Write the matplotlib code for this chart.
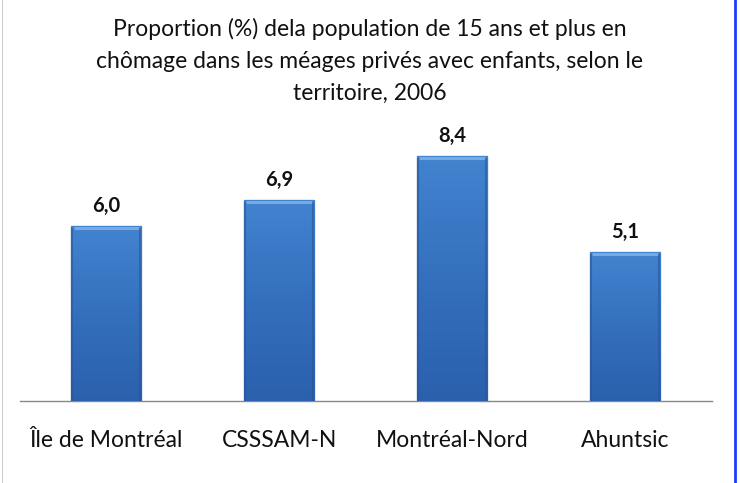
import numpy as np
import matplotlib.pyplot as plt
from matplotlib.lines import Line2D
from matplotlib.colors import LinearSegmentedColormap

plt.rcParams['font.family'] = ['Lato', 'DejaVu Sans']

categories = ["Île de Montréal", "CSSSAM-N", "Montréal-Nord", "Ahuntsic"]
values = [6.0, 6.9, 8.4, 5.1]
value_labels = ["6,0", "6,9", "8,4", "5,1"]
title = ("Proportion (%) dela population de 15 ans et plus en\n"
         "chômage dans les méages privés avec enfants, selon le\n"
         "territoire, 2006")

fig = plt.figure(figsize=(7.4, 4.83), dpi=100)
ax = fig.add_axes([0.027, 0.1698, 0.935, 0.5435])

x = np.arange(len(categories))
bars = ax.bar(x, values, width=0.405, color="#3673c0", edgecolor="#2a5a9a",
              linewidth=0.9, zorder=2)

# vertical gradient inside each bar, with a lighter bevel on top
grad = np.linspace(0, 1, 256).reshape(-1, 1)
cmap = LinearSegmentedColormap.from_list("g", ["#2b60ad", "#3470bd", "#4283cf"])
for b in bars:
    x0, y0 = b.get_x(), b.get_y()
    w, h = b.get_width(), b.get_height()
    im = ax.imshow(grad, extent=(x0, x0 + w, y0, y0 + h), origin="lower",
                   cmap=cmap, aspect="auto", zorder=3)
    im.set_clip_path(b)
    ax.plot([x0 + 0.012, x0 + w - 0.012], [y0 + h - 0.07] * 2, color="#78abe4",
            lw=2.2, zorder=4, solid_capstyle="butt")
    for xe in (x0 + 0.006, x0 + w - 0.006):
        ax.plot([xe, xe], [y0, y0 + h - 0.1], color="#29579a", lw=1.5,
                alpha=0.6, zorder=4)

for xi, v, lab in zip(x, values, value_labels):
    ax.text(xi, v + 0.35, lab, ha="center", va="bottom", fontsize=14.5,
            fontweight="bold", color="#111111")

ax.set_xlim(-0.5, 3.5)
ax.set_ylim(0, 9)
ax.set_xticks(x)
ax.set_xticklabels(categories, fontsize=16.5, color="#111111")
ax.tick_params(axis="x", length=0, pad=21)
ax.set_yticks([])
for s in ["top", "right", "left"]:
    ax.spines[s].set_visible(False)
ax.spines["bottom"].set_color("#888888")
ax.spines["bottom"].set_linewidth(1.0)

fig.text(0.5, 0.962, title, ha="center", va="top", fontsize=16.5,
         color="#111111", linespacing=1.62)

# frame lines of the original picture
fig.add_artist(Line2D([0.9935, 0.9935], [0, 1], color="#1a3cff", lw=2,
                      transform=fig.transFigure))
fig.add_artist(Line2D([0.003, 0.003], [0, 1], color="#cccccc", lw=0.8,
                      transform=fig.transFigure))

fig.savefig("out.png", dpi=100)
